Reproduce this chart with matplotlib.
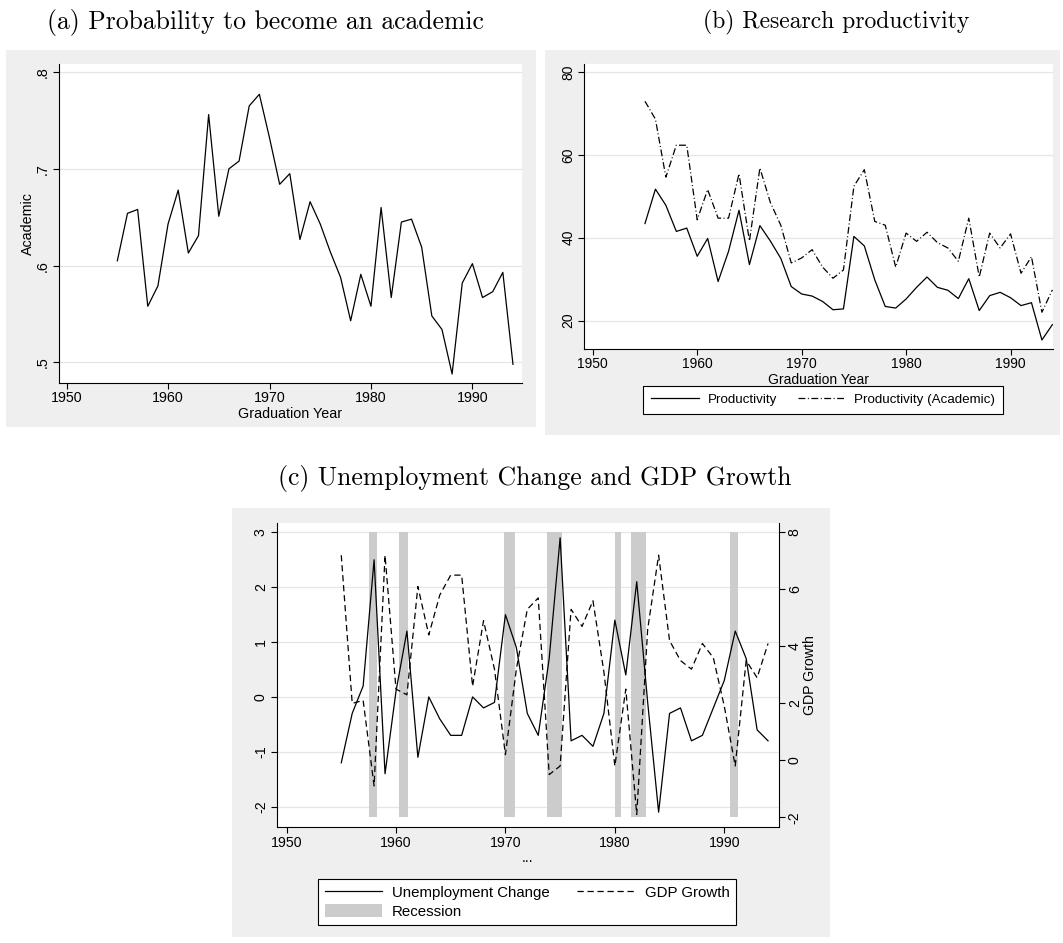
import matplotlib
matplotlib.use('Agg')
import matplotlib.pyplot as plt
from matplotlib.patches import Rectangle
import matplotlib.transforms as mtransforms

plt.rcParams['font.family'] = ['Liberation Sans', 'DejaVu Sans']
plt.rcParams['axes.unicode_minus'] = False

# ---------------- data ----------------
years = list(range(1955, 1995))

academic = [0.605, 0.654, 0.658, 0.558, 0.579, 0.643, 0.678, 0.613, 0.631, 0.756,
            0.651, 0.700, 0.708, 0.765, 0.777, 0.732, 0.684, 0.695, 0.627, 0.666,
            0.643, 0.614, 0.588, 0.543, 0.591, 0.558, 0.660, 0.567, 0.645, 0.648,
            0.619, 0.548, 0.534, 0.488, 0.582, 0.602, 0.567, 0.573, 0.593, 0.498]

productivity = [43.4, 51.7, 47.8, 41.5, 42.3, 35.5, 39.8, 29.4, 36.7, 46.6,
                33.5, 42.9, 39.2, 35.0, 28.2, 26.4, 25.9, 24.6, 22.6, 22.8,
                40.3, 38.0, 29.8, 23.4, 23.0, 25.2, 28.0, 30.5, 28.0, 27.3,
                25.3, 30.1, 22.4, 26.0, 26.8, 25.5, 23.6, 24.3, 15.3, 19.0]

productivity_academic = [72.9, 68.6, 54.6, 62.3, 62.3, 44.3, 51.6, 44.7, 44.7, 55.4,
                         39.2, 56.8, 48.5, 43.0, 33.9, 35.1, 37.1, 32.9, 30.2, 32.2,
                         52.4, 56.4, 43.9, 43.0, 32.9, 41.1, 39.1, 41.3, 38.8, 37.5,
                         34.3, 44.7, 30.5, 41.1, 37.5, 40.9, 31.4, 35.4, 22.0, 27.4]

unemployment_change = [-1.2, -0.3, 0.2, 2.5, -1.4, 0.1, 1.2, -1.1, 0.0, -0.4,
                       -0.7, -0.7, 0.0, -0.2, -0.1, 1.5, 0.9, -0.3, -0.7, 0.7,
                       2.9, -0.8, -0.7, -0.9, -0.3, 1.4, 0.4, 2.1, -0.1, -2.1,
                       -0.3, -0.2, -0.8, -0.7, -0.2, 0.3, 1.2, 0.7, -0.6, -0.8]

gdp_growth = [7.2, 2.0, 2.1, -0.9, 7.2, 2.5, 2.3, 6.1, 4.4, 5.8,
              6.5, 6.5, 2.6, 4.9, 3.2, 0.2, 3.2, 5.3, 5.7, -0.5,
              -0.2, 5.3, 4.7, 5.6, 3.1, -0.2, 2.5, -1.9, 4.6, 7.2,
              4.2, 3.5, 3.2, 4.1, 3.6, 1.9, -0.2, 3.5, 2.9, 4.1]

recession_start = [1957.56, 1960.25, 1969.90, 1973.83, 1980.01, 1981.50, 1990.52]
recession_end = [1958.30, 1961.13, 1970.88, 1975.20, 1980.56, 1982.87, 1991.28]
recession_band = (-2, 8)   # drawn on the GDP-growth axis

x_ticks = [1950, 1960, 1970, 1980, 1990]
a_yticks = [0.5, 0.6, 0.7, 0.8]
a_ylabels = ['.5', '.6', '.7', '.8']
b_yticks = [20, 40, 60, 80]
c_left_ticks = [-2, -1, 0, 1, 2, 3]
c_right_ticks = [-2, 0, 2, 4, 6, 8]

# ---------------- figure ----------------
W, H = 1063, 943
fig = plt.figure(figsize=(W / 100, H / 100), dpi=100)
fig.patch.set_facecolor('white')


def rect(x0, y0, x1, y1):
    return [x0 / W, 1 - y1 / H, (x1 - x0) / W, (y1 - y0) / H]


GREY_BG = '#EFEFEF'
GRID = '#E6E6E6'
for (x0, y0, x1, y1) in [(6, 50, 536, 427), (545, 50, 1060, 435), (232, 508, 830, 937)]:
    fig.add_artist(Rectangle((x0 / W, 1 - y1 / H), (x1 - x0) / W, (y1 - y0) / H,
                             transform=fig.transFigure, facecolor=GREY_BG,
                             edgecolor='none', zorder=0))

fig.text(265 / W, 1 - 22 / H, '(a) Probability to become an academic',
         ha='center', va='center', family='cmr10', fontsize=18.5)
fig.text(836 / W, 1 - 22 / H, '(b) Research productivity',
         ha='center', va='center', family='cmr10', fontsize=17)
fig.text(535 / W, 1 - 479 / H, '(c) Unemployment Change and GDP Growth',
         ha='center', va='center', family='cmr10', fontsize=18.5)

LW = 0.9


def style(ax, fs):
    ax.set_facecolor('white')
    ax.spines['top'].set_visible(False)
    ax.spines['right'].set_visible(False)
    for s in ['left', 'bottom']:
        ax.spines[s].set_linewidth(0.8)
        ax.spines[s].set_color('black')
    ax.tick_params(direction='out', length=4.3, width=0.8, labelsize=fs,
                   colors='black', pad=2)
    ax.tick_params(axis='y', labelrotation=90)
    for lbl in ax.get_yticklabels():
        lbl.set_va('center')
    ax.grid(axis='y', color=GRID, lw=0.9)
    ax.grid(axis='x', visible=False)
    ax.set_axisbelow(True)


# ---- panel a ----
ax_a = fig.add_axes(rect(58.5, 64, 521.6, 382.7))
ax_a.plot(years, academic, color='black', lw=LW)
ax_a.set_xlim(1949.2, 1994.85)
ax_a.set_ylim(0.479, 0.8083)
ax_a.set_xticks(x_ticks)
ax_a.set_yticks(a_yticks)
ax_a.set_yticklabels(a_ylabels)
style(ax_a, 10.3)
ax_a.set_ylabel('Academic', fontsize=10.3, labelpad=0.5)
ax_a.set_xlabel('Graduation Year', fontsize=10.3, labelpad=1)

# ---- panel b ----
ax_b = fig.add_axes(rect(584.4, 64, 1053.4, 348.7))
l1, = ax_b.plot(years, productivity, color='black', lw=LW)
l2, = ax_b.plot(years, productivity_academic, color='black', lw=LW,
                dashes=(5.5, 2, 0.8, 2))
ax_b.set_xlim(1949.2, 1994.1)
ax_b.set_ylim(13.2, 81.9)
ax_b.set_xticks(x_ticks)
ax_b.set_yticks(b_yticks)
style(ax_b, 10.0)
ax_b.set_xlabel('Graduation Year', fontsize=10.0, labelpad=1)
leg_b = fig.legend([l1, l2], ['Productivity', 'Productivity (Academic)'],
                   loc='center', bbox_to_anchor=((642 + 1004) / 2 / W, 1 - 400 / H),
                   ncol=2, fontsize=9.6, frameon=True, fancybox=False,
                   edgecolor='black', facecolor='white', framealpha=1,
                   handlelength=3.6, handletextpad=0.67, columnspacing=1.55,
                   borderpad=0.6)
leg_b.get_frame().set_linewidth(0.8)

# ---- panel c ----
ax_c = fig.add_axes(rect(276.7, 522.7, 779, 827))
ax_c2 = ax_c.twinx()
ax_c.set_xlim(1949.1, 1995.0)
ax_c.set_ylim(-2.37, 3.175)
ax_c2.set_ylim(-2.34, 8.34)
blend = mtransforms.blended_transform_factory(ax_c.transData, ax_c2.transData)
widths = [e - s for s, e in zip(recession_start, recession_end)]
bars = ax_c.bar(recession_start, [recession_band[1] - recession_band[0]] * len(widths),
                width=widths, bottom=recession_band[0], align='edge',
                color='#CCCCCC', edgecolor='none', transform=blend, zorder=1)
lu, = ax_c.plot(years, unemployment_change, color='black', lw=LW, zorder=2)
lg, = ax_c2.plot(years, gdp_growth, color='black', lw=LW, dashes=(5, 3), zorder=2)
ax_c.set_xticks(x_ticks)
ax_c.set_yticks(c_left_ticks)
ax_c2.set_yticks(c_right_ticks)
style(ax_c, 10.2)
ax_c.set_xlabel('...', fontsize=10.2, labelpad=1)
for s in ['left', 'top', 'bottom']:
    ax_c2.spines[s].set_visible(False)
ax_c2.spines['right'].set_linewidth(0.8)
ax_c2.tick_params(direction='out', length=4.3, width=0.8, labelsize=10.2,
                  colors='black', pad=2, labelrotation=90)
for lbl in ax_c2.get_yticklabels():
    lbl.set_va('center')
ax_c2.set_ylabel('GDP Growth', fontsize=10.2, labelpad=1)
leg_c = fig.legend([lu, bars, lg], ['Unemployment Change', 'Recession', 'GDP Growth'],
                   loc='center', bbox_to_anchor=((315 + 739) / 2 / W, 1 - 901.8 / H),
                   ncol=2, fontsize=10.8, frameon=True, fancybox=False,
                   edgecolor='black', facecolor='white', framealpha=1,
                   handlelength=3.8, handleheight=1.0, handletextpad=0.69,
                   columnspacing=1.84, borderpad=0.42, labelspacing=0.25)
leg_c.get_frame().set_linewidth(0.8)

fig.savefig('out.png', dpi=100)
